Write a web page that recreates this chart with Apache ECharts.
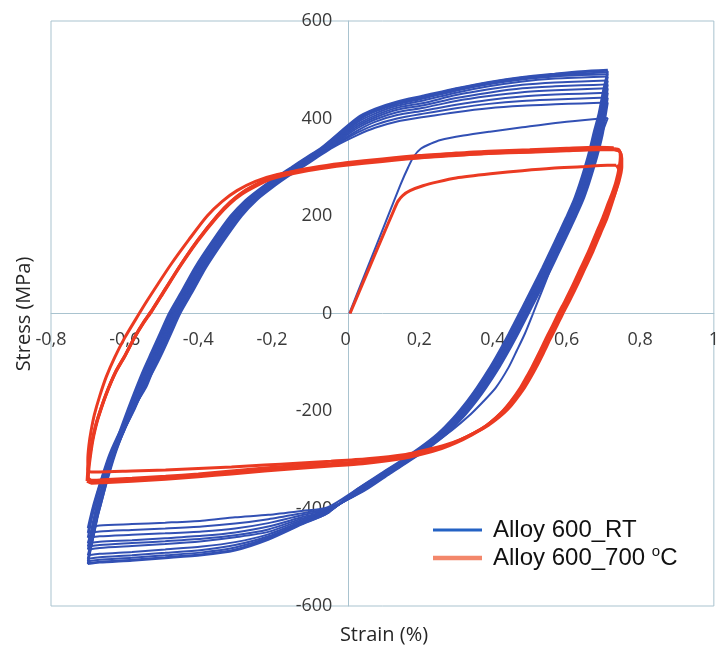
<!DOCTYPE html>
<html>
<head>
<meta charset="utf-8">
<script src="https://cdn.jsdelivr.net/npm/echarts@6/dist/echarts.min.js"></script>
<style>html,body{margin:0;padding:0;background:#fff;}#c{width:722px;height:645px;}</style>
</head>
<body>
<div id="c"></div>
<script>
// ---- tick labels / axis ----
const xTicks = [-0.8, -0.6, -0.4, -0.2, 0, 0.2, 0.4, 0.6, 0.8, 1];
const yTicks = [-600, -400, -200, 0, 200, 400, 600];
const seriesNames = ['Alloy 600_RT', 'Alloy 600_700 °C'];

// ---- Alloy 600, room temperature (strain %, stress MPa) ----
const rtLoad = [[0.010,0],[0.060,95],[0.110,190],[0.150,266],[0.170,300],[0.185,322],[0.204,338],[0.230,348],[0.258,356],[0.320,365],[0.392,373],[0.480,382],[0.570,391],[0.650,397],[0.712,401]];
const rtDown1 = [[0.712,401],[0.690,358],[0.661,300],[0.629,237],[0.597,172],[0.562,103],[0.543,65],[0.523,27],[0.509,0],[0.487,-41],[0.465,-76],[0.443,-110],[0.408,-152],[0.372,-182],[0.332,-212],[0.288,-240],[0.242,-265],[0.183,-293],[0.122,-320],[0.040,-356],[-0.050,-398],[-0.120,-405],[-0.210,-413],[-0.300,-418],[-0.390,-425],[-0.490,-429],[-0.580,-432],[-0.668,-435],[-0.700,-440]];
const rtUp1 = [[-0.700,-440],[-0.694,-420],[-0.684,-390],[-0.664,-340],[-0.642,-290],[-0.612,-240],[-0.580,-195],[-0.547,-152],[-0.520,-115],[-0.497,-80],[-0.473,-40],[-0.449,0],[-0.415,45],[-0.379,94],[-0.330,150],[-0.282,200],[-0.242,232],[-0.197,259],[-0.154,282],[-0.117,300],[-0.077,320],[-0.034,341],[0.032,366],[0.080,381],[0.140,394],[0.212,403],[0.300,413],[0.389,421],[0.480,426],[0.569,429],[0.640,431],[0.712,433]];
const rtDown2 = [[0.712,433],[0.706,405],[0.699,370],[0.688,335],[0.675,300],[0.661,266],[0.645,232],[0.625,198],[0.604,164],[0.582,129],[0.560,94],[0.534,55],[0.514,25],[0.497,0],[0.469,-41],[0.444,-76],[0.418,-110],[0.382,-152],[0.356,-179],[0.319,-213],[0.276,-246],[0.229,-274],[0.177,-301],[0.122,-328],[0.048,-365],[-0.050,-400],[-0.120,-410],[-0.210,-422],[-0.300,-431],[-0.390,-437],[-0.490,-441],[-0.580,-444],[-0.668,-447],[-0.700,-450]];
const rtUp2 = [[-0.700,-450],[-0.692,-420],[-0.682,-390],[-0.663,-340],[-0.638,-290],[-0.607,-240],[-0.577,-195],[-0.542,-152],[-0.522,-115],[-0.501,-80],[-0.477,-40],[-0.453,0],[-0.419,45],[-0.383,94],[-0.334,150],[-0.286,200],[-0.246,232],[-0.201,259],[-0.158,282],[-0.121,300],[-0.081,320],[-0.038,341],[0.032,371],[0.080,387],[0.140,400],[0.212,410],[0.300,421],[0.389,430],[0.480,436],[0.569,439],[0.640,441],[0.712,443]];
const rtDown3 = [[0.712,443],[0.705,410],[0.696,370],[0.685,335],[0.672,300],[0.658,266],[0.642,232],[0.622,198],[0.601,164],[0.579,129],[0.557,94],[0.531,55],[0.511,25],[0.494,0],[0.466,-41],[0.441,-76],[0.415,-110],[0.379,-152],[0.353,-179],[0.316,-213],[0.273,-246],[0.226,-274],[0.174,-301],[0.119,-328],[0.045,-365],[-0.050,-402],[-0.120,-414],[-0.210,-430],[-0.300,-441],[-0.390,-447],[-0.490,-451],[-0.580,-454],[-0.668,-457],[-0.700,-460]];
const rtUp3 = [[-0.700,-460],[-0.689,-420],[-0.679,-390],[-0.660,-340],[-0.636,-290],[-0.604,-240],[-0.574,-195],[-0.545,-152],[-0.525,-115],[-0.504,-80],[-0.480,-40],[-0.456,0],[-0.422,45],[-0.386,94],[-0.337,150],[-0.289,200],[-0.249,232],[-0.204,259],[-0.161,282],[-0.124,300],[-0.084,320],[-0.041,341],[0.032,375],[0.080,393],[0.140,407],[0.212,416],[0.300,428],[0.389,438],[0.480,445],[0.569,449],[0.640,451],[0.712,453]];
const rtDown4 = [[0.712,453],[0.704,415],[0.693,370],[0.682,335],[0.669,300],[0.655,266],[0.639,232],[0.619,198],[0.598,164],[0.576,129],[0.554,94],[0.528,55],[0.508,25],[0.491,0],[0.463,-41],[0.438,-76],[0.412,-110],[0.376,-152],[0.350,-179],[0.313,-213],[0.270,-246],[0.223,-274],[0.171,-301],[0.116,-328],[0.042,-365],[-0.050,-404],[-0.120,-418],[-0.210,-437],[-0.300,-449],[-0.390,-456],[-0.490,-461],[-0.580,-465],[-0.668,-468],[-0.700,-471]];
const rtUp4 = [[-0.700,-471],[-0.694,-455],[-0.684,-420],[-0.675,-390],[-0.656,-340],[-0.633,-290],[-0.602,-240],[-0.572,-195],[-0.548,-152],[-0.528,-115],[-0.507,-80],[-0.483,-40],[-0.459,0],[-0.425,45],[-0.389,94],[-0.340,150],[-0.292,200],[-0.252,232],[-0.207,259],[-0.164,282],[-0.127,300],[-0.087,320],[-0.044,341],[0.032,380],[0.080,398],[0.140,413],[0.212,422],[0.300,436],[0.389,446],[0.480,454],[0.569,458],[0.640,460],[0.712,462]];
const rtDown5 = [[0.712,462],[0.703,420],[0.690,370],[0.679,335],[0.666,300],[0.652,266],[0.636,232],[0.616,198],[0.595,164],[0.573,129],[0.551,94],[0.525,55],[0.505,25],[0.488,0],[0.460,-41],[0.435,-76],[0.409,-110],[0.373,-152],[0.347,-179],[0.310,-213],[0.267,-246],[0.220,-274],[0.168,-301],[0.113,-328],[0.039,-365],[-0.050,-405],[-0.120,-421],[-0.210,-443],[-0.300,-455],[-0.390,-462],[-0.490,-467],[-0.580,-471],[-0.668,-475],[-0.700,-478]];
const rtUp5 = [[-0.700,-478],[-0.692,-455],[-0.681,-420],[-0.671,-390],[-0.652,-340],[-0.630,-290],[-0.601,-240],[-0.574,-195],[-0.551,-152],[-0.531,-115],[-0.510,-80],[-0.486,-40],[-0.462,0],[-0.428,45],[-0.392,94],[-0.343,150],[-0.295,200],[-0.255,232],[-0.210,259],[-0.167,282],[-0.130,300],[-0.090,320],[-0.047,341],[0.032,384],[0.080,402],[0.140,418],[0.212,427],[0.300,442],[0.389,453],[0.480,462],[0.569,466],[0.640,468],[0.712,470]];
const rtDown6 = [[0.712,470],[0.705,440],[0.697,410],[0.688,370],[0.677,335],[0.664,300],[0.650,266],[0.634,232],[0.614,198],[0.593,164],[0.571,129],[0.549,94],[0.523,55],[0.503,25],[0.486,0],[0.458,-41],[0.433,-76],[0.407,-110],[0.371,-152],[0.345,-179],[0.308,-213],[0.265,-246],[0.218,-274],[0.166,-301],[0.111,-328],[0.037,-365],[-0.050,-406],[-0.120,-424],[-0.210,-448],[-0.300,-459],[-0.390,-467],[-0.490,-473],[-0.580,-477],[-0.668,-481],[-0.700,-484]];
const rtUp6 = [[-0.700,-484],[-0.690,-455],[-0.679,-420],[-0.668,-390],[-0.649,-340],[-0.628,-290],[-0.601,-240],[-0.576,-195],[-0.554,-152],[-0.534,-115],[-0.513,-80],[-0.489,-40],[-0.465,0],[-0.431,45],[-0.395,94],[-0.346,150],[-0.298,200],[-0.258,232],[-0.213,259],[-0.170,282],[-0.133,300],[-0.093,320],[-0.050,341],[0.032,388],[0.080,406],[0.140,422],[0.212,432],[0.300,448],[0.389,460],[0.480,469],[0.569,474],[0.640,476],[0.712,478]];
const rtDown7 = [[0.712,478],[0.704,445],[0.695,410],[0.685,370],[0.674,335],[0.661,300],[0.647,266],[0.631,232],[0.611,198],[0.590,164],[0.568,129],[0.546,94],[0.520,55],[0.500,25],[0.483,0],[0.455,-41],[0.430,-76],[0.404,-110],[0.368,-152],[0.342,-179],[0.305,-213],[0.262,-246],[0.215,-274],[0.163,-301],[0.108,-328],[0.034,-365],[-0.050,-407],[-0.120,-427],[-0.210,-453],[-0.300,-469],[-0.390,-478],[-0.490,-484],[-0.580,-489],[-0.668,-493],[-0.700,-496]];
const rtUp7 = [[-0.700,-496],[-0.686,-455],[-0.675,-420],[-0.664,-390],[-0.646,-340],[-0.626,-290],[-0.602,-240],[-0.579,-195],[-0.557,-152],[-0.537,-115],[-0.516,-80],[-0.492,-40],[-0.468,0],[-0.434,45],[-0.398,94],[-0.349,150],[-0.301,200],[-0.261,232],[-0.216,259],[-0.173,282],[-0.136,300],[-0.096,320],[-0.053,341],[0.032,392],[0.080,410],[0.140,426],[0.212,437],[0.300,453],[0.389,466],[0.480,476],[0.569,482],[0.640,484],[0.712,486]];
const rtDown8 = [[0.712,486],[0.703,450],[0.693,410],[0.682,370],[0.671,335],[0.658,300],[0.644,266],[0.628,232],[0.608,198],[0.587,164],[0.565,129],[0.543,94],[0.517,55],[0.497,25],[0.480,0],[0.452,-41],[0.427,-76],[0.401,-110],[0.365,-152],[0.339,-179],[0.302,-213],[0.259,-246],[0.212,-274],[0.160,-301],[0.105,-328],[0.031,-365],[-0.050,-408],[-0.120,-429],[-0.210,-457],[-0.300,-475],[-0.390,-485],[-0.490,-491],[-0.580,-496],[-0.668,-500],[-0.700,-503]];
const rtUp8 = [[-0.700,-503],[-0.684,-455],[-0.674,-420],[-0.664,-390],[-0.647,-340],[-0.628,-290],[-0.605,-240],[-0.582,-195],[-0.560,-152],[-0.540,-115],[-0.519,-80],[-0.495,-40],[-0.471,0],[-0.437,45],[-0.401,94],[-0.352,150],[-0.304,200],[-0.264,232],[-0.219,259],[-0.176,282],[-0.139,300],[-0.099,320],[-0.056,341],[0.032,395],[0.080,414],[0.140,429],[0.212,441],[0.300,457],[0.389,470],[0.480,480],[0.569,486],[0.640,489],[0.712,491]];
const rtDown9 = [[0.712,491],[0.702,455],[0.691,410],[0.679,370],[0.668,335],[0.655,300],[0.641,266],[0.625,232],[0.605,198],[0.584,164],[0.562,129],[0.540,94],[0.514,55],[0.494,25],[0.477,0],[0.449,-41],[0.424,-76],[0.398,-110],[0.362,-152],[0.336,-179],[0.299,-213],[0.256,-246],[0.209,-274],[0.157,-301],[0.102,-328],[0.028,-365],[-0.050,-409],[-0.120,-431],[-0.210,-460],[-0.300,-480],[-0.390,-490],[-0.490,-496],[-0.580,-501],[-0.668,-505],[-0.700,-508]];
const rtUp9 = [[-0.700,-508],[-0.692,-480],[-0.684,-455],[-0.675,-420],[-0.666,-390],[-0.649,-340],[-0.630,-290],[-0.607,-240],[-0.585,-195],[-0.563,-152],[-0.543,-115],[-0.522,-80],[-0.498,-40],[-0.474,0],[-0.440,45],[-0.404,94],[-0.355,150],[-0.307,200],[-0.267,232],[-0.222,259],[-0.179,282],[-0.142,300],[-0.102,320],[-0.059,341],[0.032,398],[0.080,416],[0.140,431],[0.212,443],[0.300,459],[0.389,472],[0.480,482],[0.569,489],[0.640,492],[0.712,495]];
const rtDown10 = [[0.712,495],[0.701,458],[0.689,410],[0.676,370],[0.665,335],[0.652,300],[0.638,266],[0.622,232],[0.602,198],[0.581,164],[0.559,129],[0.537,94],[0.511,55],[0.491,25],[0.474,0],[0.446,-41],[0.421,-76],[0.395,-110],[0.359,-152],[0.333,-179],[0.296,-213],[0.253,-246],[0.206,-274],[0.154,-301],[0.099,-328],[0.025,-365],[-0.050,-410],[-0.120,-432],[-0.210,-462],[-0.300,-484],[-0.390,-494],[-0.490,-500],[-0.580,-505],[-0.668,-509],[-0.700,-512]];
const rtUp10 = [[-0.700,-512],[-0.691,-480],[-0.684,-455],[-0.676,-420],[-0.668,-390],[-0.652,-340],[-0.633,-290],[-0.610,-240],[-0.588,-195],[-0.566,-152],[-0.546,-115],[-0.525,-80],[-0.501,-40],[-0.477,0],[-0.443,45],[-0.407,94],[-0.358,150],[-0.310,200],[-0.270,232],[-0.225,259],[-0.182,282],[-0.145,300],[-0.105,320],[-0.062,341],[0.032,400],[0.080,418],[0.140,433],[0.212,445],[0.300,461],[0.389,474],[0.480,484],[0.569,491],[0.640,495],[0.712,498]];
const rtDown11 = [[0.712,498],[0.700,460],[0.687,410],[0.673,370],[0.662,335],[0.649,300],[0.635,266],[0.619,232],[0.599,198],[0.578,164],[0.556,129],[0.534,94],[0.508,55],[0.488,25],[0.471,0],[0.443,-41],[0.418,-76],[0.392,-110],[0.356,-152],[0.330,-179],[0.293,-213],[0.250,-246],[0.203,-274],[0.151,-301],[0.096,-328],[0.022,-365],[-0.050,-410],[-0.120,-433],[-0.210,-464],[-0.300,-486],[-0.390,-496],[-0.490,-502],[-0.580,-507],[-0.668,-511],[-0.700,-514]];
const rtUp11 = [[-0.700,-514],[-0.692,-480],[-0.686,-455],[-0.678,-420],[-0.670,-390],[-0.655,-340],[-0.636,-290],[-0.613,-240],[-0.591,-195],[-0.569,-152],[-0.549,-115],[-0.528,-80],[-0.504,-40],[-0.480,0],[-0.446,45],[-0.410,94],[-0.361,150],[-0.313,200],[-0.273,232],[-0.228,259],[-0.185,282],[-0.148,300],[-0.108,320],[-0.065,341],[0.032,402],[0.080,420],[0.140,435],[0.212,447],[0.300,462],[0.389,475],[0.480,485],[0.569,492],[0.640,497],[0.712,500]];

// ---- Alloy 600, 700 °C ----
const htLoad = [[0.012,0],[0.060,86],[0.100,157],[0.130,210],[0.142,230],[0.155,242],[0.175,252],[0.210,262],[0.250,270],[0.300,278],[0.400,287],[0.480,293],[0.560,298],[0.640,301],[0.711,304],[0.735,304]];
const htDown1 = [[0.735,304],[0.742,295],[0.742,280],[0.737,260],[0.726,232],[0.710,196],[0.692,164],[0.672,128],[0.651,94],[0.629,58],[0.608,26],[0.590,0],[0.574,-25],[0.557,-50],[0.538,-80],[0.518,-110],[0.502,-132],[0.486,-152],[0.460,-179],[0.440,-197],[0.418,-212],[0.388,-229],[0.355,-243],[0.313,-258],[0.273,-269],[0.218,-280],[0.163,-289],[0.058,-298],[-0.040,-303],[-0.132,-307],[-0.220,-311],[-0.310,-315],[-0.400,-318],[-0.489,-321],[-0.580,-323],[-0.670,-325],[-0.692,-325],[-0.700,-322]];
const htUp1 = [[-0.700,-322],[-0.700,-300],[-0.697,-270],[-0.691,-240],[-0.682,-207],[-0.668,-170],[-0.650,-130],[-0.627,-90],[-0.600,-50],[-0.570,-12],[-0.540,25],[-0.510,60],[-0.475,100],[-0.425,152],[-0.376,200],[-0.335,230],[-0.295,252],[-0.245,271],[-0.185,285],[-0.110,295],[0.000,306],[0.100,314],[0.200,320],[0.300,325],[0.400,329],[0.500,332],[0.600,335],[0.680,337],[0.730,337]];
const htDown2 = [[0.730,337],[0.744,333],[0.748,320],[0.747,300],[0.738,270],[0.727,245],[0.718,228],[0.702,196],[0.684,164],[0.664,128],[0.643,94],[0.621,58],[0.600,26],[0.582,0],[0.566,-25],[0.549,-50],[0.530,-80],[0.510,-110],[0.494,-132],[0.478,-152],[0.452,-179],[0.432,-197],[0.410,-213],[0.380,-231],[0.347,-246],[0.305,-262],[0.265,-274],[0.210,-286],[0.155,-295],[0.050,-305],[-0.040,-310],[-0.132,-315],[-0.220,-320],[-0.310,-326],[-0.400,-332],[-0.489,-337],[-0.580,-341],[-0.660,-344],[-0.690,-345],[-0.700,-341]];
const htUp2 = [[-0.700,-341],[-0.699,-320],[-0.695,-295],[-0.689,-265],[-0.682,-240],[-0.674,-217],[-0.652,-168],[-0.625,-120],[-0.600,-87],[-0.573,-48],[-0.548,-17],[-0.525,8],[-0.490,50],[-0.448,100],[-0.400,152],[-0.349,200],[-0.315,227],[-0.280,248],[-0.240,265],[-0.204,278],[-0.160,287],[-0.110,295],[-0.050,302],[0.000,307],[0.100,315],[0.200,322],[0.300,327],[0.389,331],[0.500,334],[0.600,337],[0.680,339],[0.730,338]];
const htDown3 = [[0.730,338],[0.742,336],[0.746,322],[0.743,300],[0.734,270],[0.723,245],[0.714,228],[0.698,196],[0.680,164],[0.660,128],[0.639,94],[0.617,58],[0.596,26],[0.578,0],[0.562,-25],[0.545,-50],[0.526,-80],[0.506,-110],[0.490,-132],[0.474,-153],[0.448,-181],[0.428,-199],[0.406,-215],[0.376,-234],[0.343,-249],[0.301,-265],[0.261,-277],[0.206,-289],[0.151,-298],[0.046,-308],[-0.040,-313],[-0.132,-318],[-0.220,-323],[-0.310,-329],[-0.400,-335],[-0.489,-340],[-0.580,-344],[-0.660,-347],[-0.690,-348],[-0.702,-344]];
const htUp3 = [[-0.702,-344],[-0.700,-322],[-0.696,-297],[-0.690,-268],[-0.683,-243],[-0.675,-220],[-0.653,-171],[-0.626,-123],[-0.601,-90],[-0.574,-51],[-0.549,-20],[-0.526,5],[-0.491,47],[-0.449,97],[-0.401,149],[-0.350,197],[-0.316,224],[-0.281,245],[-0.241,262],[-0.205,275],[-0.161,284],[-0.111,292],[-0.051,299],[0.000,304],[0.100,312],[0.200,319],[0.300,324],[0.389,328],[0.500,331],[0.600,334],[0.680,336],[0.730,336]];
const htDown4 = [[0.730,336],[0.745,332],[0.750,318],[0.750,300],[0.742,270],[0.731,245],[0.722,228],[0.706,196],[0.688,164],[0.668,128],[0.647,94],[0.625,58],[0.604,26],[0.586,0],[0.570,-25],[0.553,-50],[0.534,-80],[0.514,-110],[0.498,-131],[0.482,-150],[0.456,-177],[0.436,-195],[0.414,-211],[0.384,-229],[0.351,-244],[0.309,-260],[0.269,-272],[0.214,-284],[0.159,-293],[0.054,-303],[-0.040,-308],[-0.132,-312],[-0.220,-317],[-0.310,-323],[-0.400,-329],[-0.489,-334],[-0.580,-338],[-0.660,-341],[-0.690,-342],[-0.699,-338]];
const htUp4 = [[-0.699,-338],[-0.697,-318],[-0.693,-293],[-0.687,-263],[-0.680,-238],[-0.672,-215],[-0.650,-166],[-0.623,-118],[-0.598,-85],[-0.571,-46],[-0.546,-15],[-0.523,10],[-0.488,52],[-0.446,102],[-0.398,154],[-0.347,202],[-0.313,229],[-0.278,250],[-0.238,267],[-0.202,280],[-0.158,289],[-0.108,297],[-0.048,304],[0.000,309],[0.100,317],[0.200,324],[0.300,329],[0.389,333],[0.500,336],[0.600,339],[0.680,341],[0.728,340]];

const rtBranches = [rtLoad, rtDown1, rtUp1, rtDown2, rtUp2, rtDown3, rtUp3, rtDown4, rtUp4, rtDown5, rtUp5, rtDown6, rtUp6, rtDown7, rtUp7, rtDown8, rtUp8, rtDown9, rtUp9, rtDown10, rtUp10, rtDown11, rtUp11];
const htBranches = [htLoad, htDown1, htUp1, htDown2, htUp2, htDown3, htUp3, htDown4, htUp4];

const BLUE = '#3250b4';
const RED = '#eb3a22';

function branchSeries(name, data, color, width, z) {
  return {
    name: name, type: 'line', data: data, symbol: 'none', showSymbol: false,
    smooth: 0.25, clip: true, z: z, silent: true,
    lineStyle: { color: color, width: width }
  };
}

const series = [];
rtBranches.forEach(d => series.push(branchSeries(seriesNames[0], d, BLUE, 2, 2)));
htBranches.forEach(d => series.push(branchSeries(seriesNames[1], d, RED, 3, 3)));

const axisColor = '#a9c3cf';
const labelFont = { fontFamily: 'Open Sans', fontSize: 18, color: '#3a3a3a' };
const GRID = { left: 51, right: 2, top: 21, bottom: 39 };
const plotW = 722 - GRID.left - GRID.right;
const plotH = 645 - GRID.top - GRID.bottom;
// place each axis (line + labels) on the other axis' zero
const xAxisOffset = -plotH * (0 - yTicks[0]) / (yTicks[yTicks.length - 1] - yTicks[0]);
const yAxisOffset = -plotW * (0 - xTicks[0]) / (xTicks[xTicks.length - 1] - xTicks[0]);

const chart = echarts.init(document.getElementById('c'), null, { renderer: 'canvas' });
chart.setOption({
  animation: false,
  backgroundColor: '#ffffff',
  grid: Object.assign({ show: true, borderColor: axisColor, borderWidth: 1, containLabel: false }, GRID),
  xAxis: {
    type: 'value', position: 'bottom', offset: xAxisOffset,
    min: xTicks[0], max: xTicks[xTicks.length - 1], interval: 0.2,
    axisLine: { show: true, onZero: false, lineStyle: { color: axisColor, width: 1 } },
    axisTick: { show: false }, splitLine: { show: false },
    axisLabel: Object.assign({ margin: 17, showMinLabel: true, showMaxLabel: true,
      formatter: v => String(Math.round(v * 10) / 10).replace('.', ',') }, labelFont)
  },
  yAxis: {
    type: 'value', position: 'left', offset: yAxisOffset,
    min: yTicks[0], max: yTicks[yTicks.length - 1], interval: 200,
    axisLine: { show: true, onZero: false, lineStyle: { color: axisColor, width: 1 } },
    axisTick: { show: false }, splitLine: { show: false },
    axisLabel: Object.assign({ margin: 16, showMinLabel: true, showMaxLabel: true,
      formatter: v => String(Math.round(v)) }, labelFont)
  },
  legend: {
    orient: 'vertical', left: 433, top: 518, padding: 0, itemWidth: 49, itemHeight: 14, itemGap: 2,
    selectedMode: false,
    data: [
      { name: seriesNames[0], icon: 'path://M0,0M49,14M0,5.6h49v2.8h-49z', itemStyle: { color: '#2462c4' } },
      { name: seriesNames[1], icon: 'path://M0,0M49,14M0,4.8h49v4.4h-49z', itemStyle: { color: '#f3876b' } }
    ],
    formatter: function (name) {
      return name === seriesNames[1] ? '{t|Alloy 600_700 }{sup|o}{t|C}' : '{t|' + name + '}';
    },
    textStyle: {
      fontFamily: 'Liberation Sans', fontSize: 24, color: '#111', padding: [0, 0, 0, 6],
      rich: {
        t: { fontFamily: 'Liberation Sans', fontSize: 24, color: '#111', lineHeight: 28 },
        sup: { fontFamily: 'Liberation Sans', fontSize: 15, color: '#111', lineHeight: 6, verticalAlign: 'top' }
      }
    }
  },
  graphic: [
    { type: 'text', x: 24, y: 314, rotation: Math.PI / 2, silent: true,
      style: { text: 'Stress (MPa)', fill: '#262626', fontFamily: 'Open Sans', fontSize: 20, align: 'center', verticalAlign: 'middle' } },
    { type: 'text', x: 384, y: 635, silent: true,
      style: { text: 'Strain (%)', fill: '#262626', fontFamily: 'Open Sans', fontSize: 20, align: 'center', verticalAlign: 'middle' } }
  ],
  series: series
});
</script>
</body>
</html>
